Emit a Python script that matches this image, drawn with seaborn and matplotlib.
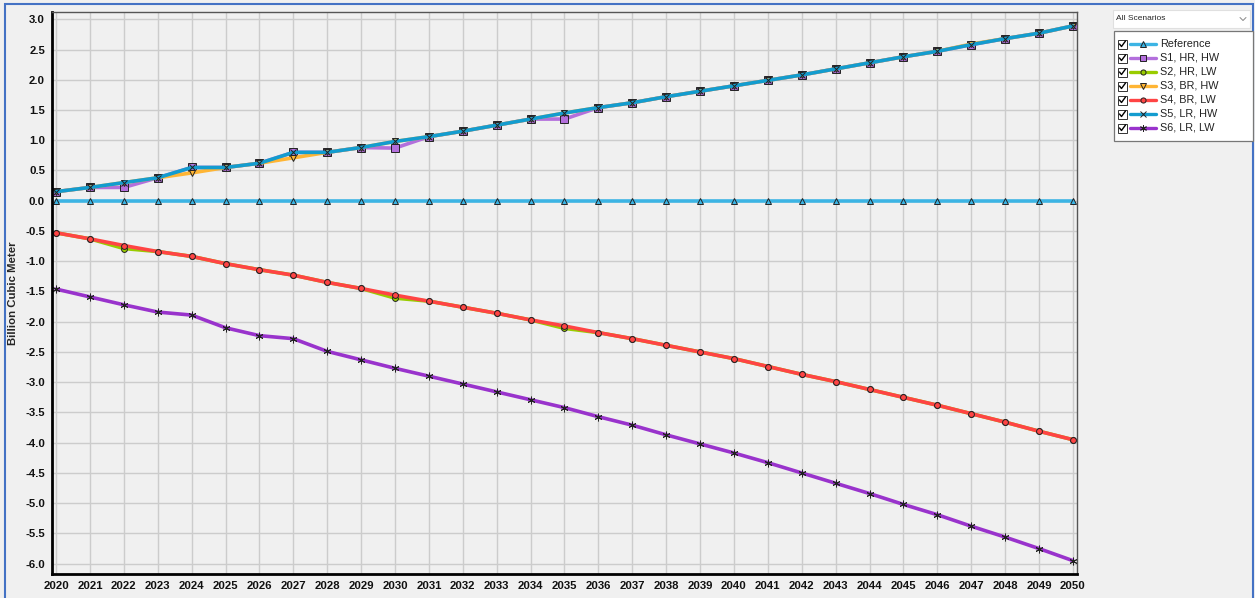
import numpy as np
import pandas as pd
import matplotlib
matplotlib.use("Agg")
import matplotlib.pyplot as plt
import seaborn as sns
from matplotlib.patches import Rectangle
from matplotlib.lines import Line2D

# ---- data ----
years = list(range(2020, 2051))

reference = [0.0] * 31
s5 = [0.15, 0.22, 0.30, 0.38, 0.55, 0.55, 0.62, 0.80, 0.80, 0.88,
      0.98, 1.06, 1.15, 1.25, 1.35, 1.45, 1.54, 1.62, 1.72, 1.81,
      1.90, 1.99, 2.08, 2.18, 2.28, 2.38, 2.47, 2.58, 2.68, 2.77, 2.89]
s1 = [0.15, 0.22, 0.22, 0.38, 0.55, 0.55, 0.62, 0.80, 0.80, 0.88,
      0.87, 1.06, 1.15, 1.25, 1.35, 1.35, 1.54, 1.62, 1.72, 1.81,
      1.90, 1.99, 2.08, 2.18, 2.28, 2.38, 2.47, 2.58, 2.68, 2.77, 2.89]
s3 = [0.15, 0.22, 0.30, 0.38, 0.46, 0.55, 0.62, 0.71, 0.80, 0.88,
      0.98, 1.06, 1.15, 1.25, 1.35, 1.45, 1.54, 1.62, 1.72, 1.81,
      1.90, 1.99, 2.08, 2.18, 2.28, 2.38, 2.47, 2.59, 2.68, 2.77, 2.89]
s4 = [-0.53, -0.63, -0.74, -0.84, -0.92, -1.04, -1.14, -1.23, -1.35, -1.45,
      -1.56, -1.66, -1.76, -1.86, -1.97, -2.07, -2.18, -2.28, -2.39, -2.50,
      -2.61, -2.74, -2.87, -2.99, -3.12, -3.25, -3.38, -3.52, -3.66, -3.81, -3.95]
s2 = [-0.53, -0.63, -0.79, -0.84, -0.92, -1.04, -1.14, -1.23, -1.35, -1.45,
      -1.61, -1.66, -1.76, -1.86, -1.97, -2.11, -2.18, -2.28, -2.39, -2.50,
      -2.61, -2.74, -2.87, -2.99, -3.12, -3.25, -3.38, -3.52, -3.66, -3.81, -3.95]
s6 = [-1.46, -1.59, -1.72, -1.84, -1.89, -2.10, -2.23, -2.28, -2.49, -2.63,
      -2.77, -2.90, -3.03, -3.16, -3.29, -3.42, -3.57, -3.71, -3.87, -4.02,
      -4.17, -4.33, -4.50, -4.67, -4.84, -5.02, -5.19, -5.38, -5.56, -5.75, -5.95]

scenarios = ["Reference", "S1, HR, HW", "S2, HR, LW", "S3, BR, HW",
             "S4, BR, LW", "S5, LR, HW", "S6, LR, LW"]
series = [reference, s1, s2, s3, s4, s5, s6]

colors = {"Reference": "#3cb4e4", "S1, HR, HW": "#b36fdc", "S2, HR, LW": "#99cc00",
          "S3, BR, HW": "#ffb534", "S4, BR, LW": "#ff4444", "S5, LR, HW": "#139ccf",
          "S6, LR, LW": "#9933cc"}
markers = {"Reference": "^", "S1, HR, HW": "s", "S2, HR, LW": "o",
           "S3, BR, HW": "v", "S4, BR, LW": "o", "S5, LR, HW": "x",
           "S6, LR, LW": (6, 2, 0)}
msizes = {"Reference": 5, "S1, HR, HW": 5.5, "S2, HR, LW": 4.2,
          "S3, BR, HW": 5, "S4, BR, LW": 4.2, "S5, LR, HW": 5, "S6, LR, LW": 5.5}

df = pd.DataFrame({
    "Year": years * len(scenarios),
    "Value": [v for s in series for v in s],
    "Scenario": [n for n in scenarios for _ in years],
})

# ---- figure ----
sns.set_style("whitegrid")
plt.rcParams["font.family"] = ["Liberation Sans", "DejaVu Sans"]
bg = "#f0f0f0"
fig = plt.figure(figsize=(12.55, 5.98), dpi=100, facecolor=bg)
W, H = 1255, 598
ax = fig.add_axes([52 / W, 1 - 574 / H, (1077 - 52) / W, (574 - 12) / H])
ax.set_facecolor(bg)

# one call per scenario (filled and line-art markers can't be mixed in one call)
for name in scenarios:
    sub = df[df["Scenario"] == name]
    sns.lineplot(data=sub, x="Year", y="Value", color=colors[name],
                 marker=markers[name], linewidth=2.6, markersize=msizes[name],
                 markeredgecolor="#222222", markeredgewidth=0.7, ax=ax)

ax.set_xlim(2019.88, 2050.12)
ax.set_ylim(-6.17, 3.12)
ax.set_xticks(years)
ax.set_yticks(np.arange(-6.0, 3.01, 0.5))
ax.set_yticklabels([f"{v:.1f}" for v in np.arange(-6.0, 3.01, 0.5)])
ax.grid(True, color="#cccccc", linewidth=1.0)
ax.tick_params(axis="both", labelsize=8.2, length=3, color="#333333", pad=2)
for lab in ax.get_xticklabels() + ax.get_yticklabels():
    lab.set_fontweight("bold")
    lab.set_color("#111111")
ax.set_xlabel("")
ax.set_ylabel("Billion Cubic Meter", fontsize=8.2, fontweight="bold", labelpad=5)
for side in ["left", "bottom"]:
    ax.spines[side].set_color("black")
    ax.spines[side].set_linewidth(2)
for side in ["top", "right"]:
    ax.spines[side].set_color("#555555")
    ax.spines[side].set_linewidth(1)

# window border
fig.add_artist(Rectangle((5 / W, -0.01), (1253 - 5) / W, 1 - 4 / H + 0.01,
                         transform=fig.transFigure, fill=False,
                         edgecolor="#4472c4", linewidth=1.5))

# dropdown
fig.add_artist(Rectangle((1113 / W, 1 - 28 / H), 137 / W, 18 / H,
                         transform=fig.transFigure, facecolor="white",
                         edgecolor="#e0e0e0", linewidth=0.8))
fig.text(1116 / W, 1 - 19 / H, "All Scenarios", fontsize=6, va="center")
fig.add_artist(Line2D([1240 / W, 1243 / W, 1246 / W],
                      [1 - 17.5 / H, 1 - 20.5 / H, 1 - 17.5 / H],
                      transform=fig.transFigure, color="#888888", linewidth=0.7))

# legend panel with checkboxes
fig.add_artist(Rectangle((1114 / W, 1 - 141 / H), 139 / W, 110 / H,
                         transform=fig.transFigure, facecolor="white",
                         edgecolor="#777777", linewidth=0.9))
for i, name in enumerate(scenarios):
    yc = 1 - (44 + 14 * i) / H
    fig.add_artist(Rectangle((1118 / W, yc - 4.5 / H), 9 / W, 9 / H,
                             transform=fig.transFigure, facecolor="white",
                             edgecolor="#333333", linewidth=0.7))
    fig.add_artist(Line2D([1119.5 / W, 1121.5 / W, 1125.5 / W],
                          [yc, yc - 2.5 / H, yc + 3 / H],
                          transform=fig.transFigure, color="black", linewidth=1.0))
    fig.add_artist(Line2D([1130 / W, 1156 / W], [yc, yc], transform=fig.transFigure,
                          color=colors[name], linewidth=2.4))
    fig.add_artist(Line2D([1143 / W], [yc], transform=fig.transFigure,
                          marker=markers[name], markersize=msizes[name] - 0.5,
                          color=colors[name],
                          markeredgecolor="#222222", markeredgewidth=0.7))
    fig.text(1160 / W, yc, name, fontsize=7.8, va="center", color="#222222")

fig.savefig("out.png", dpi=100, facecolor=bg)
